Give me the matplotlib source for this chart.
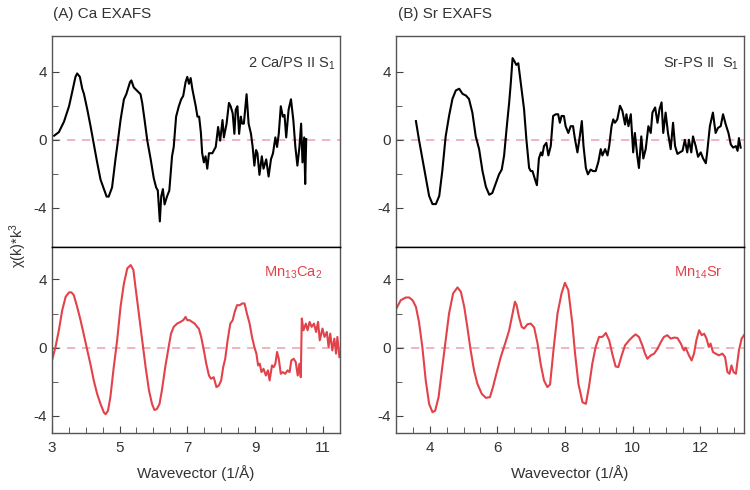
import matplotlib.pyplot as plt
from matplotlib.ticker import MultipleLocator, FixedLocator

# (A) Ca EXAFS, top: 2 Ca/PS II S1 (black)
ca_k = [3.07, 3.21, 3.36, 3.51, 3.6, 3.7, 3.75, 3.83, 3.9, 3.95, 4.05, 4.15, 4.24, 4.34, 4.44, 4.54,
        4.62, 4.68, 4.78, 4.88, 4.93, 5.03, 5.13, 5.2, 5.31, 5.35, 5.42, 5.52, 5.62, 5.67, 5.74, 5.82,
        5.92, 6.01, 6.08, 6.13, 6.19, 6.23, 6.28, 6.33, 6.4, 6.47, 6.55, 6.6, 6.67, 6.75, 6.82, 6.88,
        6.95, 7.0, 7.05, 7.1, 7.15, 7.25, 7.3, 7.35, 7.4, 7.44, 7.49, 7.54, 7.59, 7.64, 7.74, 7.84,
        7.91, 7.97, 8.04, 8.08, 8.16, 8.23, 8.28, 8.34, 8.39, 8.43, 8.48, 8.53, 8.58, 8.62, 8.67, 8.75,
        8.81, 8.88, 8.93, 8.98, 9.03, 9.07, 9.13, 9.2, 9.25, 9.33, 9.4, 9.47, 9.53, 9.6, 9.65, 9.7,
        9.76, 9.82, 9.87, 9.92, 9.99, 10.06, 10.13, 10.19, 10.25, 10.31, 10.36, 10.4, 10.45, 10.48, 10.51]
ca_chi = [0.24, 0.45, 1.06, 1.97, 2.78, 3.7, 3.9, 3.7, 3.0, 2.7, 1.77, 0.75, -0.24, -1.33, -2.34, -2.9,
          -3.34, -3.34, -2.8, -1.15, -0.42, 1.16, 2.38, 2.68, 3.39, 3.49, 3.08, 2.88, 2.68, 2.17, 1.16, -0.05,
          -1.15, -2.25, -2.8, -2.98, -4.8, -3.34, -2.9, -3.8, -3.34, -2.98, -0.97, -0.42, 1.36, 1.97, 2.38, 2.58,
          3.39, 3.7, 3.29, 3.63, 2.98, 1.97, 1.36, 1.36, 0.45, -0.79, -1.33, -0.97, -1.7, -0.79, -0.79, -0.42,
          0.75, -0.05, 1.16, 0.14, 0.95, 2.17, 1.97, 1.56, 0.35, 1.77, 1.97, 0.35, 1.36, 0.95, 0.95, 2.68,
          0.95, 0.35, -0.42, -1.52, -0.6, -0.79, -2.06, -0.97, -1.7, -1.15, -2.16, -1.15, -0.79, 0.14, -0.42, 0.35,
          1.97, 1.36, 1.46, 0.14, 1.77, 2.38, 1.16, -0.42, -1.52, -0.42, 0.95, -1.33, 0.14, -2.6, 0.04]

# (A) bottom: Mn13Ca2 (red)
mnca_k = [3.02, 3.11, 3.21, 3.31, 3.41, 3.51, 3.58, 3.65, 3.75, 3.85, 3.95, 4.05, 4.15, 4.24, 4.34, 4.44,
          4.54, 4.59, 4.66, 4.73, 4.83, 4.93, 5.03, 5.13, 5.23, 5.33, 5.41, 5.47, 5.57, 5.67, 5.77, 5.87,
          5.96, 6.03, 6.1, 6.18, 6.25, 6.35, 6.45, 6.52, 6.6, 6.7, 6.8, 6.88, 6.95, 7.0, 7.07, 7.14,
          7.22, 7.29, 7.34, 7.41, 7.49, 7.56, 7.64, 7.7, 7.78, 7.86, 7.93, 8.0, 8.06, 8.12, 8.19, 8.27,
          8.34, 8.4, 8.47, 8.55, 8.62, 8.69, 8.76, 8.84, 8.91, 8.98, 9.04, 9.09, 9.14, 9.19, 9.25, 9.32,
          9.38, 9.43, 9.5, 9.55, 9.6, 9.65, 9.7, 9.76, 9.82, 9.89, 9.96, 10.02, 10.07, 10.14, 10.2, 10.26,
          10.31, 10.35, 10.38, 10.43, 10.5, 10.55, 10.61, 10.67, 10.74, 10.8, 10.86, 10.91, 10.99, 11.05, 11.12,
          11.17, 11.22, 11.28, 11.34, 11.39, 11.43, 11.49]
mnca_chi = [-0.65, 0.04, 1.02, 2.2, 2.98, 3.24, 3.24, 3.08, 2.39, 1.61, 0.73, -0.16, -1.04, -1.92, -2.71, -3.3,
            -3.8, -3.9, -3.69, -2.9, -1.14, 0.43, 2.39, 3.76, 4.65, 4.84, 4.55, 3.57, 2.0, 0.43, -1.14, -2.51,
            -3.3, -3.65, -3.6, -3.3, -2.51, -1.14, 0.04, 0.82, 1.22, 1.41, 1.51, 1.61, 1.8, 1.61, 1.61, 1.51,
            1.41, 1.22, 1.12, 0.63, -0.16, -0.94, -1.63, -1.82, -1.73, -2.31, -2.22, -1.92, -1.14, -0.65, 0.43, 1.41,
            1.61, 2.1, 2.49, 2.49, 2.59, 2.59, 2.0, 1.41, 0.63, 0.04, -0.35, -1.04, -0.94, -1.43, -1.24, -1.63,
            -1.33, -1.92, -1.04, -1.14, -0.94, -0.25, -0.65, -1.53, -1.43, -1.53, -1.33, -1.43, -0.75, -0.65, -0.84, -1.63,
            -0.94, -1.73, 1.71, 1.02, 1.41, 1.02, 1.51, 1.22, 1.41, 0.92, 1.51, 0.43, 1.12, 0.63, 0.92,
            0.04, 0.82, -0.16, 0.53, -0.35, 0.63, -0.55]

# (B) Sr EXAFS, top: Sr-PS II S1 (black)
sr_k = [3.59, 3.68, 3.78, 3.88, 3.98, 4.08, 4.18, 4.28, 4.37, 4.47, 4.57, 4.67, 4.77, 4.87, 4.97, 5.07,
        5.16, 5.26, 5.36, 5.46, 5.56, 5.66, 5.76, 5.85, 5.95, 6.05, 6.13, 6.2, 6.28, 6.35, 6.4, 6.45,
        6.51, 6.56, 6.62, 6.69, 6.79, 6.86, 6.94, 6.99, 7.04, 7.11, 7.17, 7.23, 7.29, 7.33, 7.38, 7.45,
        7.51, 7.58, 7.65, 7.73, 7.8, 7.85, 7.9, 7.97, 8.02, 8.1, 8.17, 8.24, 8.3, 8.37, 8.44, 8.5,
        8.55, 8.62, 8.68, 8.76, 8.83, 8.91, 8.99, 9.06, 9.11, 9.19, 9.26, 9.31, 9.38, 9.43, 9.48, 9.55,
        9.63, 9.7, 9.78, 9.82, 9.88, 9.95, 10.02, 10.07, 10.14, 10.19, 10.26, 10.32, 10.39, 10.47, 10.54, 10.59,
        10.67, 10.74, 10.8, 10.86, 10.91, 10.98, 11.05, 11.13, 11.2, 11.26, 11.33, 11.4, 11.48, 11.55, 11.62, 11.67,
        11.74, 11.79, 11.87, 11.94, 12.02, 12.09, 12.17, 12.21, 12.29, 12.38, 12.46, 12.53, 12.61, 12.68, 12.76, 12.84,
        12.91, 12.98, 13.06, 13.11, 13.15, 13.2]
sr_chi = [1.1, 0.0, -1.1, -2.2, -3.3, -3.78, -3.78, -3.3, -1.84, 0.2, 1.4, 2.4, 2.9, 3.0, 2.7, 2.6,
          2.4, 1.6, 0.2, -0.55, -1.84, -2.76, -3.23, -3.13, -2.58, -2.03, -1.75, -0.92, 0.8, 2.2, 3.4, 4.8,
          4.6, 4.4, 4.5, 3.4, 1.8, 0.0, -1.66, -1.84, -1.84, -2.3, -2.67, -1.1, -0.74, -0.92, -0.37, -0.18,
          -0.92, -0.37, 1.4, 1.5, 1.5, 1.0, 1.4, 1.4, 0.8, 0.4, 0.8, 0.8, 0.0, -0.74, 0.2, 1.1,
          -0.37, -1.66, -2.03, -1.75, -1.84, -1.84, -1.29, -0.55, -0.92, -0.55, -0.92, -0.37, 0.8, 1.2, 1.0, 1.2,
          2.0, 1.7, 0.9, 1.5, 0.8, 1.5, -0.74, 0.4, -0.92, -1.66, 0.2, -1.1, -0.55, 0.8, 0.4, 1.6,
          1.9, 1.0, 1.8, 2.2, 0.4, 1.6, 0.4, -0.55, 1.0, -0.37, -0.83, -0.74, -0.65, 0.0, -0.74, 0.0,
          -0.74, 0.2, -0.37, -1.0, -0.74, -1.1, -1.38, -0.74, 0.8, 1.6, 0.4, 0.7, 0.8, 1.5, 0.9, 0.4,
          -0.28, -0.46, -0.37, -0.65, 0.1, -0.46]

# (B) bottom: Mn14Sr (red)
mnsr_k = [3.01, 3.14, 3.29, 3.39, 3.49, 3.59, 3.68, 3.78, 3.88, 3.98, 4.08, 4.16, 4.26, 4.37, 4.47, 4.57,
          4.69, 4.82, 4.92, 5.02, 5.11, 5.21, 5.31, 5.41, 5.54, 5.66, 5.78, 5.87, 5.97, 6.1, 6.23, 6.35,
          6.45, 6.52, 6.57, 6.64, 6.72, 6.79, 6.89, 6.99, 7.09, 7.19, 7.28, 7.38, 7.48, 7.56, 7.66, 7.78,
          7.9, 8.0, 8.1, 8.22, 8.3, 8.4, 8.52, 8.62, 8.71, 8.81, 8.91, 9.01, 9.11, 9.21, 9.31, 9.4,
          9.5, 9.58, 9.68, 9.78, 9.9, 10.0, 10.09, 10.19, 10.29, 10.37, 10.44, 10.54, 10.64, 10.74, 10.84, 10.93,
          11.03, 11.13, 11.23, 11.33, 11.43, 11.52, 11.57, 11.67, 11.75, 11.82, 11.89, 11.97, 12.05, 12.12, 12.19, 12.26,
          12.31, 12.38, 12.46, 12.56, 12.66, 12.74, 12.81, 12.87, 12.93, 12.99, 13.06, 13.15, 13.23, 13.3]
mnsr_chi = [2.29, 2.78, 2.94, 2.94, 2.78, 2.39, 1.51, 0.04, -1.92, -3.29, -3.78, -3.69, -2.9, -1.14, 0.43, 2.0,
            3.18, 3.53, 3.27, 2.39, 1.22, -0.16, -1.33, -2.12, -2.71, -2.94, -2.9, -2.31, -1.53, -0.55, 0.24, 1.02,
            2.0, 2.69, 2.49, 1.8, 1.22, 1.12, 1.37, 1.41, 1.18, 0.24, -0.94, -1.92, -2.31, -2.16, -0.16, 2.0,
            3.18, 3.8, 3.37, 1.41, -0.35, -2.12, -3.2, -3.29, -2.31, -0.94, 0.04, 0.63, 0.63, 0.86, 0.43, -0.35,
            -1.1, -1.14, -0.45, 0.14, 0.43, 0.63, 0.78, 0.63, 0.14, -0.35, -0.65, -0.45, -0.35, -0.06, 0.33, 0.63,
            0.73, 0.53, 0.59, 0.57, 0.24, -0.16, 0.0, -0.45, -0.75, -0.35, 0.43, 1.02, 0.73, 0.82, 0.53, 0.04,
            0.24, -0.25, -0.35, -0.45, -0.35, -0.55, -1.43, -1.53, -1.04, -1.43, -1.53, -0.16, 0.53, 0.73]

RED = "#e2424a"
TXT = "#333333"
plt.rcParams["font.family"] = ["Liberation Sans", "DejaVu Sans"]
plt.rcParams["axes.unicode_minus"] = False

fig = plt.figure(figsize=(7.5, 4.9), dpi=100)
L = [0.069, 0.528]
W = [0.384, 0.464]
TOP_B, TOP_H = 0.496, 0.4305
BOT_B, BOT_H = 0.1163, 0.3797

panels = [
    (L[0], W[0], (3, 11.5), [3, 5, 7, 9, 11], ca_k, ca_chi, mnca_k, mnca_chi,
     "2 Ca/PS II S$\\mathregular{_1}$", "Mn$\\mathregular{_{13}}$Ca$\\mathregular{_2}$", "(A) Ca EXAFS"),
    (L[1], W[1], (3, 13.3), [4, 6, 8, 10, 12], sr_k, sr_chi, mnsr_k, mnsr_chi,
     "Sr-PS II  S$\\mathregular{_1}$", "Mn$\\mathregular{_{14}}$Sr", "(B) Sr EXAFS"),
]

for left, width, xlim, xt, k1, c1, k2, c2, lab1, lab2, title in panels:
    ax1 = fig.add_axes([left, TOP_B, width, TOP_H])
    ax2 = fig.add_axes([left, BOT_B, width, BOT_H], sharex=ax1)
    ax1.plot(k1, c1, color="black", lw=1.5)
    ax2.plot(k2, c2, color=RED, lw=1.5)
    for ax in (ax1, ax2):
        ax.axhline(0, color="#f2a6b6", lw=1.2, ls=(0, (5, 4)), zorder=0)
        ax.set_xlim(*xlim)
        ax.xaxis.set_major_locator(FixedLocator(xt))
        ax.xaxis.set_minor_locator(MultipleLocator(0.5))
        ax.yaxis.set_major_locator(FixedLocator([-4, 0, 4]))
        ax.yaxis.set_minor_locator(FixedLocator([-2, 2]))
        ax.tick_params(which="both", direction="in", colors="#444444", labelcolor=TXT,
                       labelsize=11, top=False, right=False)
        ax.tick_params(which="major", length=5)
        ax.tick_params(which="minor", length=4)
        ax.tick_params(axis="x", pad=6)
        for s in ax.spines.values():
            s.set_color("#555555")
            s.set_linewidth(1.0)
    ax1.set_ylim(-6.3, 6.1)
    ax2.set_ylim(-5.0, 5.9)
    ax1.tick_params(axis="x", which="both", bottom=False, labelbottom=False)
    ax1.spines["bottom"].set_color("black")
    ax2.spines["top"].set_color("black")
    ax1.text(0.985, 0.87, lab1, transform=ax1.transAxes, ha="right", va="center",
             fontsize=10.5, color=TXT)
    ax2.text(0.94, 0.86, lab2, transform=ax2.transAxes, ha="right", va="center",
             fontsize=10.5, color=RED)
    ax2.set_xlabel("Wavevector (1/Å)", fontsize=11, color=TXT, labelpad=7)
    fig.text(left + 0.002, 0.972, title, ha="left", va="center", fontsize=11, color=TXT)

fig.text(0.024, 0.5, "χ(k)*k$\\mathregular{^3}$", rotation=90, ha="center", va="center",
         fontsize=10.5, color=TXT)

fig.savefig("out.png", dpi=100)
